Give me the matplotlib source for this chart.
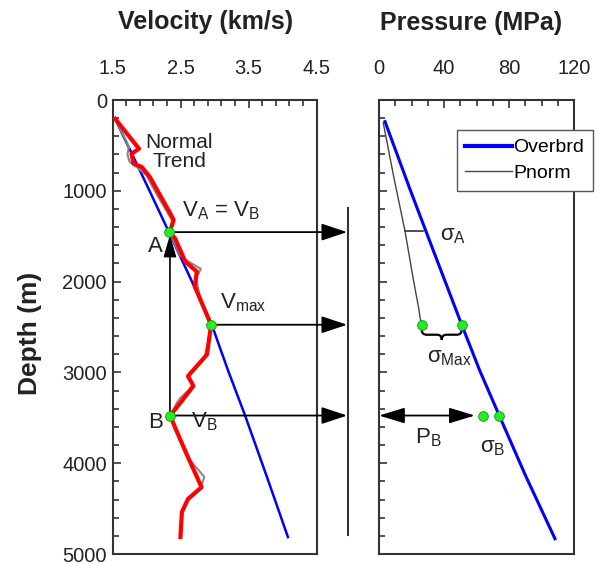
import matplotlib
matplotlib.use("Agg")
import matplotlib.pyplot as plt
from matplotlib.path import Path
from matplotlib.patches import PathPatch
from matplotlib.ticker import MultipleLocator

plt.rcParams['font.family'] = ['Liberation Sans', 'DejaVu Sans']
plt.rcParams['mathtext.fontset'] = 'custom'
plt.rcParams['mathtext.rm'] = 'Liberation Sans'
plt.rcParams['mathtext.it'] = 'Liberation Sans:italic'

# velocity log (smoothed, red)
red_v = [1.54, 1.89, 1.78, 1.81, 1.93, 2.05, 2.35, 2.40, 2.34, 2.42, 2.57, 2.74, 2.71,
         2.95, 2.93, 2.89, 2.61, 2.69, 2.52, 2.35, 2.42, 2.59, 2.81, 2.61, 2.52, 2.50]
red_d = [208, 537, 592, 702, 738, 848, 1250, 1323, 1455, 1524, 1780, 1889, 2054,
         2475, 2584, 2804, 3041, 3150, 3315, 3475, 3607, 3900, 4265, 4394, 4540, 4814]

# raw velocity (grey)
raw_v = [1.53, 1.62, 1.70, 1.74, 1.72, 1.75, 1.86, 2.00, 2.12, 2.30, 2.38, 2.34, 2.40,
         2.50, 2.62, 2.80, 2.73, 2.78, 2.90, 2.95, 2.91, 2.85, 2.62, 2.68, 2.50, 2.45,
         2.35, 2.42, 2.62, 2.85, 2.80, 2.62, 2.52, 2.50]
raw_d = [200, 330, 450, 520, 600, 680, 740, 830, 1000, 1230, 1330, 1450, 1560,
         1720, 1780, 1860, 1960, 2150, 2400, 2475, 2650, 2850, 3030, 3150, 3280, 3330,
         3475, 3620, 3950, 4150, 4270, 4400, 4560, 4810]

# normal compaction trend (blue)
trend_v = [1.54, 1.95, 2.33, 2.65, 2.96, 3.20, 3.45, 3.78, 4.08]
trend_d = [210, 850, 1455, 1970, 2475, 2980, 3475, 4170, 4814]

# picked points A, Vmax, B
pt_v = [2.33, 2.95, 2.35]
pt_d = [1455, 2475, 3475]

# pressures
ob_p = [3.7, 19.3, 33.9, 50.9, 62.0, 74.0, 90.0, 108.3]
ob_d = [238, 994, 1680, 2475, 2980, 3475, 4130, 4832]
pn_p = [2.6, 9.0, 16.0, 21.0, 24.5, 25.3, 26.3]
pn_d = [250, 840, 1444, 1963, 2300, 2400, 2475]

smax_p = [26.3, 50.9]
sb_p = [64.2, 74.0]

fig = plt.figure(figsize=(5.99, 5.64), dpi=100)
ax1 = fig.add_axes([112.5 / 599, 1 - 554 / 564, 204 / 599, 454 / 564])
ax2 = fig.add_axes([379 / 599, 1 - 554 / 564, 195 / 599, 454 / 564])

for ax in (ax1, ax2):
    ax.set_ylim(5000, 0)
    ax.yaxis.set_major_locator(MultipleLocator(1000))
    ax.yaxis.set_minor_locator(MultipleLocator(200))
    ax.xaxis.tick_top()
    ax.tick_params(which='both', direction='in', top=True, bottom=False, right=False,
                   colors='#333333', width=1.2, labelsize=14.5, labelcolor='#222222')
    ax.tick_params(which='major', length=6)
    ax.tick_params(which='minor', length=4)
    ax.tick_params(axis='x', pad=16)
    ax.tick_params(axis='y', pad=4)
    for s in ax.spines.values():
        s.set_color('#333333')
        s.set_linewidth(1.5)

ax1.set_xlim(1.5, 4.5)
ax1.set_xticks([1.5, 2.5, 3.5, 4.5])
ax1.set_xticks([1.7, 1.9, 2.1, 2.3, 2.7, 2.9, 3.1, 3.3, 3.7, 3.9, 4.1, 4.3], minor=True)
ax1.set_yticks([0, 1000, 2000, 3000, 4000, 5000])
for lbl in ax1.get_yticklabels():
    lbl.set_verticalalignment('center_baseline')

ax2.set_xlim(0, 120)
ax2.set_xticks([0, 40, 80, 120])
ax2.xaxis.set_minor_locator(MultipleLocator(10))
ax2.tick_params(axis='y', labelleft=False)

# left panel
ax1.plot(trend_v, trend_d, color='#0000ff', lw=1.8, zorder=2)
ax1.plot(raw_v, raw_d, color='#888888', lw=1.5, zorder=2)
ax1.plot(red_v, red_d, color='#ff0000', lw=3, zorder=3)

head_big = '-|>,head_length=1.05,head_width=0.35'
tip_v = 4.95
for v, d in zip(pt_v, pt_d):
    ax1.annotate('', xy=(tip_v, d), xytext=(v, d), annotation_clip=False,
                 arrowprops=dict(arrowstyle=head_big, color='black', lw=1.3,
                                 mutation_scale=15, shrinkA=0, shrinkB=0))
ax1.plot([4.96, 4.96], [1184, 4792], color='#333333', lw=1.5, clip_on=False)
ax1.annotate('', xy=(2.345, pt_d[0] + 30), xytext=(2.345, pt_d[2]), annotation_clip=False,
             arrowprops=dict(arrowstyle='-|>,head_length=0.9,head_width=0.26', color='black',
                             lw=1.2, mutation_scale=15, shrinkA=0, shrinkB=0))
ax1.plot(pt_v, pt_d, 'o', color='#22ee22', mec='#119911', mew=0.6, ms=7, zorder=5)

ax1.text(2.48, 570, 'Normal\nTrend', fontsize=15, ha='center', va='center',
         linespacing=1.0, color='#222222')
ax1.text(2.52, 1283, r'V$_\mathrm{A}$ = V$_\mathrm{B}$', fontsize=16, ha='left',
         va='baseline', color='#222222')
ax1.text(2.13, 1670, 'A', fontsize=16, ha='center', va='baseline', color='#222222')
ax1.text(3.08, 2292, r'V$_\mathrm{max}$', fontsize=16, ha='left', va='baseline',
         color='#222222')
ax1.text(2.13, 3608, 'B', fontsize=16, ha='center', va='baseline', color='#222222')
ax1.text(2.66, 3608, r'V$_\mathrm{B}$', fontsize=16, ha='left', va='baseline',
         color='#222222')

# right panel
ax2.plot(ob_p, ob_d, color='#0000ff', lw=2.2, label='Overbrd', zorder=2)
ax2.plot(pn_p, pn_d, color='#444444', lw=1.0, label='Pnorm', zorder=2)
ax2.plot([16.0, 26.9], [1444, 1444], color='#333333', lw=1.2)
ax2.text(37.5, 1543, r'σ$_\mathrm{A}$', fontsize=16, ha='left', va='baseline',
         color='#222222')

# brace under sigma-max points
x0, x1 = smax_p
xm = (x0 + x1) / 2
y0, h, q = 2530, 110, 3.0
verts = [(x0, y0), (x0, y0 + h / 2), (x0 + q, y0 + h / 2),
         (xm - q, y0 + h / 2), (xm, y0 + h / 2), (xm, y0 + h),
         (xm, y0 + h / 2), (xm + q, y0 + h / 2),
         (x1 - q, y0 + h / 2), (x1, y0 + h / 2), (x1, y0)]
codes = [Path.MOVETO, Path.CURVE3, Path.CURVE3, Path.LINETO, Path.CURVE3, Path.CURVE3,
         Path.CURVE3, Path.CURVE3, Path.LINETO, Path.CURVE3, Path.CURVE3]
ax2.add_patch(PathPatch(Path(verts, codes), fc='none', ec='black', lw=1.6))
ax2.text(29.3, 2895, r'σ$_\mathrm{Max}$', fontsize=16, ha='left', va='baseline',
         color='#222222')

ax2.annotate('', xy=(59, pt_d[2]), xytext=(0, pt_d[2]), annotation_clip=False,
             arrowprops=dict(arrowstyle='<|-|>,head_length=1.05,head_width=0.32',
                             color='black', lw=1.3, mutation_scale=15, shrinkA=0, shrinkB=0))
ax2.text(22.2, 3780, r'P$_\mathrm{B}$', fontsize=16, ha='left', va='baseline',
         color='#222222')
ax2.text(62.2, 3882, r'σ$_\mathrm{B}$', fontsize=16, ha='left', va='baseline',
         color='#222222')

ax2.plot(smax_p, [pt_d[1]] * 2, 'o', color='#22ee22', mec='#119911', mew=0.6, ms=7, zorder=5)
ax2.plot(sb_p, [pt_d[2]] * 2, 'o', color='#22ee22', mec='#119911', mew=0.6, ms=7, zorder=5)

leg = ax2.legend(loc='upper left', bbox_to_anchor=(456.7 / 599, 1 - 130 / 564),
                 bbox_transform=fig.transFigure, borderaxespad=0, fontsize=14,
                 handlelength=2.4, handletextpad=0.05, borderpad=0.45, labelspacing=0.4,
                 fancybox=False, framealpha=1, edgecolor='#555555')
leg.get_frame().set_linewidth(1.0)
leg.get_lines()[0].set_linewidth(3)

fig.text(206 / 599, 1 - 22 / 564, 'Velocity (km/s)', fontsize=18, fontweight='bold',
         ha='center', va='center', color='#222222')
fig.text(471 / 599, 1 - 23 / 564, 'Pressure (MPa)', fontsize=18, fontweight='bold',
         ha='center', va='center', color='#222222')
fig.text(30 / 599, 1 - 333 / 564, 'Depth (m)', fontsize=19, fontweight='bold',
         ha='center', va='center', rotation=90, color='#222222')

fig.savefig('out.png', dpi=100)
